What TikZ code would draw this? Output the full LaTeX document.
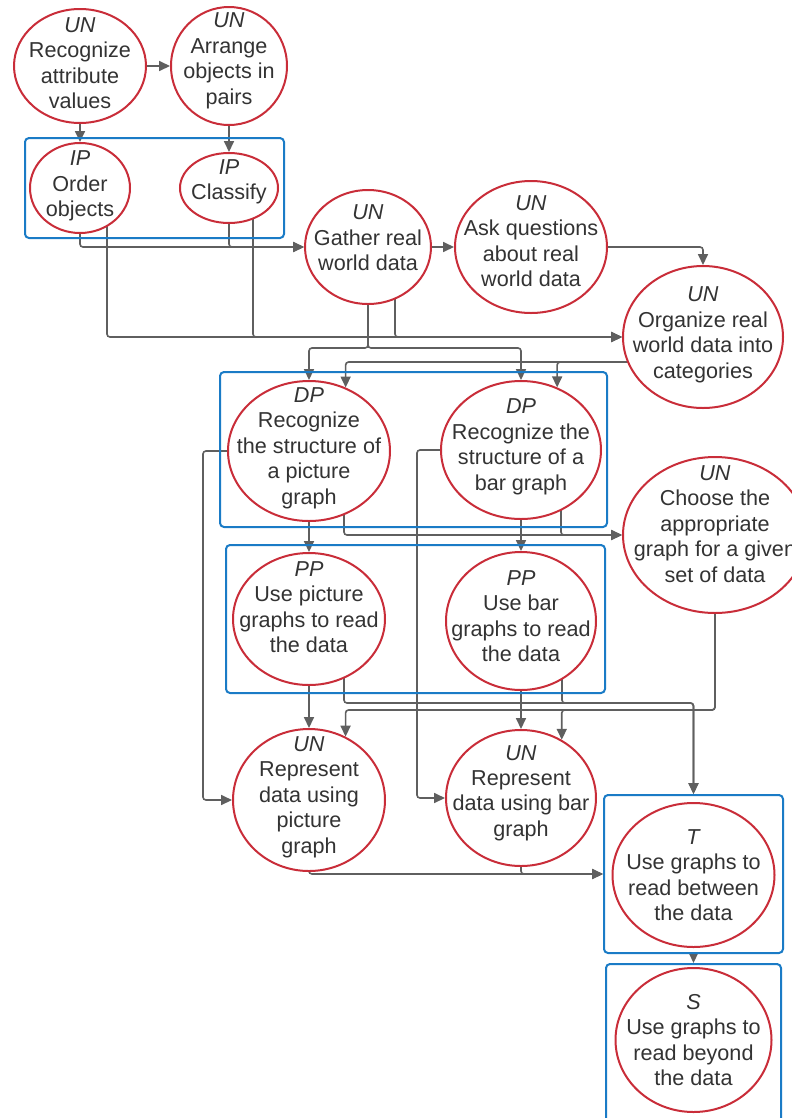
\documentclass[tikz,border=0pt]{standalone}
\usepackage{fontspec}
\setmainfont{Liberation Sans}
\usetikzlibrary{shapes.geometric,arrows.meta}
\newlength\px
\setlength\px{0.75pt}
\definecolor{topicred}{HTML}{C92D39}
\definecolor{boxblue}{HTML}{1A7BC6}
\definecolor{linkgray}{HTML}{5F5F5F}
\definecolor{textgray}{HTML}{333333}
\pgfdeclarelayer{background}
\pgfsetlayers{background,main}
\tikzset{
  topic/.style={ellipse, draw=topicred, fill=white, line width=1.5pt, inner sep=0pt},
  every label/.style={align=center, text=textgray, font=\fontsize{16.2}{19.1}\selectfont},
  groupbox/.style={rectangle, draw=boxblue, line width=1.5pt, rounded corners=3pt, inner sep=0pt},
  link/.style={draw=linkgray, line width=1.2pt, rounded corners=2.2pt, -{Triangle[length=8.2pt,width=7.5pt]}}
}
\begin{document}
\begin{tikzpicture}[x=1\px,y=-1\px]
\useasboundingbox (0,0) rectangle (792,1118);

% group boxes
\node[groupbox, minimum width=259\px, minimum height=100\px] (ipbox) at (154.5,188) {};
\node[groupbox, minimum width=387\px, minimum height=155\px] (dpbox) at (413.5,449.5) {};
\node[groupbox, minimum width=379\px, minimum height=148\px] (ppbox) at (415.5,619) {};
\node[groupbox, minimum width=179\px, minimum height=158\px] (tbox) at (693.5,874) {};
\node[groupbox, minimum width=175\px, minimum height=158\px] (sbox) at (693.5,1043) {};

% topics
\node[topic, minimum width=132\px, minimum height=114\px,
  label={[yshift=3\px]center:{\textit{UN}\\Recognize\\attribute\\values}}] (rav) at (80,66) {};
\node[topic, minimum width=116\px, minimum height=118\px,
  label={[yshift=5\px]center:{\textit{UN}\\Arrange\\objects in\\pairs}}] (aop) at (229,66) {};
\node[topic, minimum width=100\px, minimum height=90\px,
  label={[yshift=2\px]center:{\textit{IP}\\Order\\objects}}] (oo) at (80,188) {};
\node[topic, minimum width=98\px, minimum height=70\px,
  label={[yshift=6\px]center:{\textit{IP}\\Classify}}] (cl) at (229,188) {};
\node[topic, minimum width=126\px, minimum height=114\px,
  label={[yshift=9\px]center:{\textit{UN}\\Gather real\\world data}}] (grw) at (368,247) {};
\node[topic, minimum width=152\px, minimum height=132\px,
  label={[yshift=6\px]center:{\textit{UN}\\Ask questions\\about real\\world data}}] (aq) at (531,247) {};
\node[topic, minimum width=160\px, minimum height=142\px,
  label={[yshift=2\px]center:{\textit{UN}\\Organize real\\world data into\\categories}}] (orw) at (703,337) {};
\node[topic, minimum width=162\px, minimum height=140\px,
  label={[yshift=3\px]center:{\textit{DP}\\Recognize\\the structure of\\a picture\\graph}}] (dp1) at (309,451) {};
\node[topic, minimum width=160\px, minimum height=138\px,
  label={[yshift=3\px]center:{\textit{DP}\\Recognize the\\structure of a\\bar graph}}] (dp2) at (521,450) {};
\node[topic, minimum width=184\px, minimum height=156\px,
  label={[yshift=11\px]center:{\textit{UN}\\Choose the\\appropriate\\graph for a given\\set of data}}] (ucg) at (715,535) {};
\node[topic, minimum width=152\px, minimum height=132\px,
  label={[yshift=12\px]center:{\textit{PP}\\Use picture\\graphs to read\\the data}}] (pp1) at (309,619) {};
\node[topic, minimum width=150\px, minimum height=138\px,
  label={[yshift=5\px]center:{\textit{PP}\\Use bar\\graphs to read\\the data}}] (pp2) at (521,621) {};
\node[topic, minimum width=152\px, minimum height=142\px,
  label={[yshift=3\px]center:{\textit{UN}\\Represent\\data using\\picture\\graph}}] (rdp) at (309,800) {};
\node[topic, minimum width=150\px, minimum height=136\px,
  label={[yshift=5\px]center:{\textit{UN}\\Represent\\data using bar\\graph}}] (rdb) at (521,798) {};
\node[topic, minimum width=162\px, minimum height=144\px,
  label={center:{\textit{T}\\Use graphs to\\read between\\the data}}] (rbt) at (693.5,875) {};
\node[topic, minimum width=156\px, minimum height=144\px,
  label={center:{\textit{S}\\Use graphs to\\read beyond\\the data}}] (rby) at (693.5,1040) {};

% links
\begin{pgfonlayer}{background}
\draw[link] (rav.east) -- (aop.west);
\draw[link] (rav.south) -- (oo.north);
\draw[link] (aop.south) -- (cl.north);
\draw[link] (oo.south) |- (grw.west);
\draw[link] (cl.south) |- (grw.west);
\draw[link] ([xshift=27\px]oo.center) |- (orw.west);
\draw[link] ([xshift=24\px]cl.center) |- (orw.west);
\draw[link] (grw.east) -- (aq.west);
\draw[link] ([xshift=27\px]grw.center) |- (orw.west);
\draw[link] (aq.east) -| (orw.north);
\draw[link] (grw.south) -- ++(0,43) -| (dp1.north);
\draw[link] (grw.south) -- ++(0,43) -| (dp2.north);
\draw[link] ([yshift=-25\px]orw.center) -| (dp1.60);
\draw[link] ([yshift=-25\px]orw.center) -| (dp2.60);
\draw[link] (dp1.west) -- ++(-24,0) |- (rdp.west);
\draw[link] (dp2.west) -- ++(-23,0) |- (rdb.west);
\draw[link] (dp1.south) -- (pp1.north);
\draw[link] (dp2.south) -- (pp2.north);
\draw[link] ([xshift=35\px]dp1.center) |- (ucg.west);
\draw[link] ([xshift=40\px]dp2.center) |- (ucg.west);
\draw[link] (pp1.south) -- (rdp.north);
\draw[link] (pp2.south) -- (rdb.north);
\draw[link] ([xshift=35\px]pp1.center) -- ++(0,84) -| (tbox.north);
\draw[link] ([xshift=41\px]pp2.center) -- ++(0,82) -| (tbox.north);
\draw[link] (ucg.south) -- ++(0,96) -| (rdp.60);
\draw[link] (ucg.south) -- ++(0,96) -| (rdb.55);
\draw[link] (rdp.south) |- (tbox.west);
\draw[link] (rdb.south) |- (tbox.west);
\draw[link] (tbox.south) -- (sbox.north);
\end{pgfonlayer}
\end{tikzpicture}
\end{document}
